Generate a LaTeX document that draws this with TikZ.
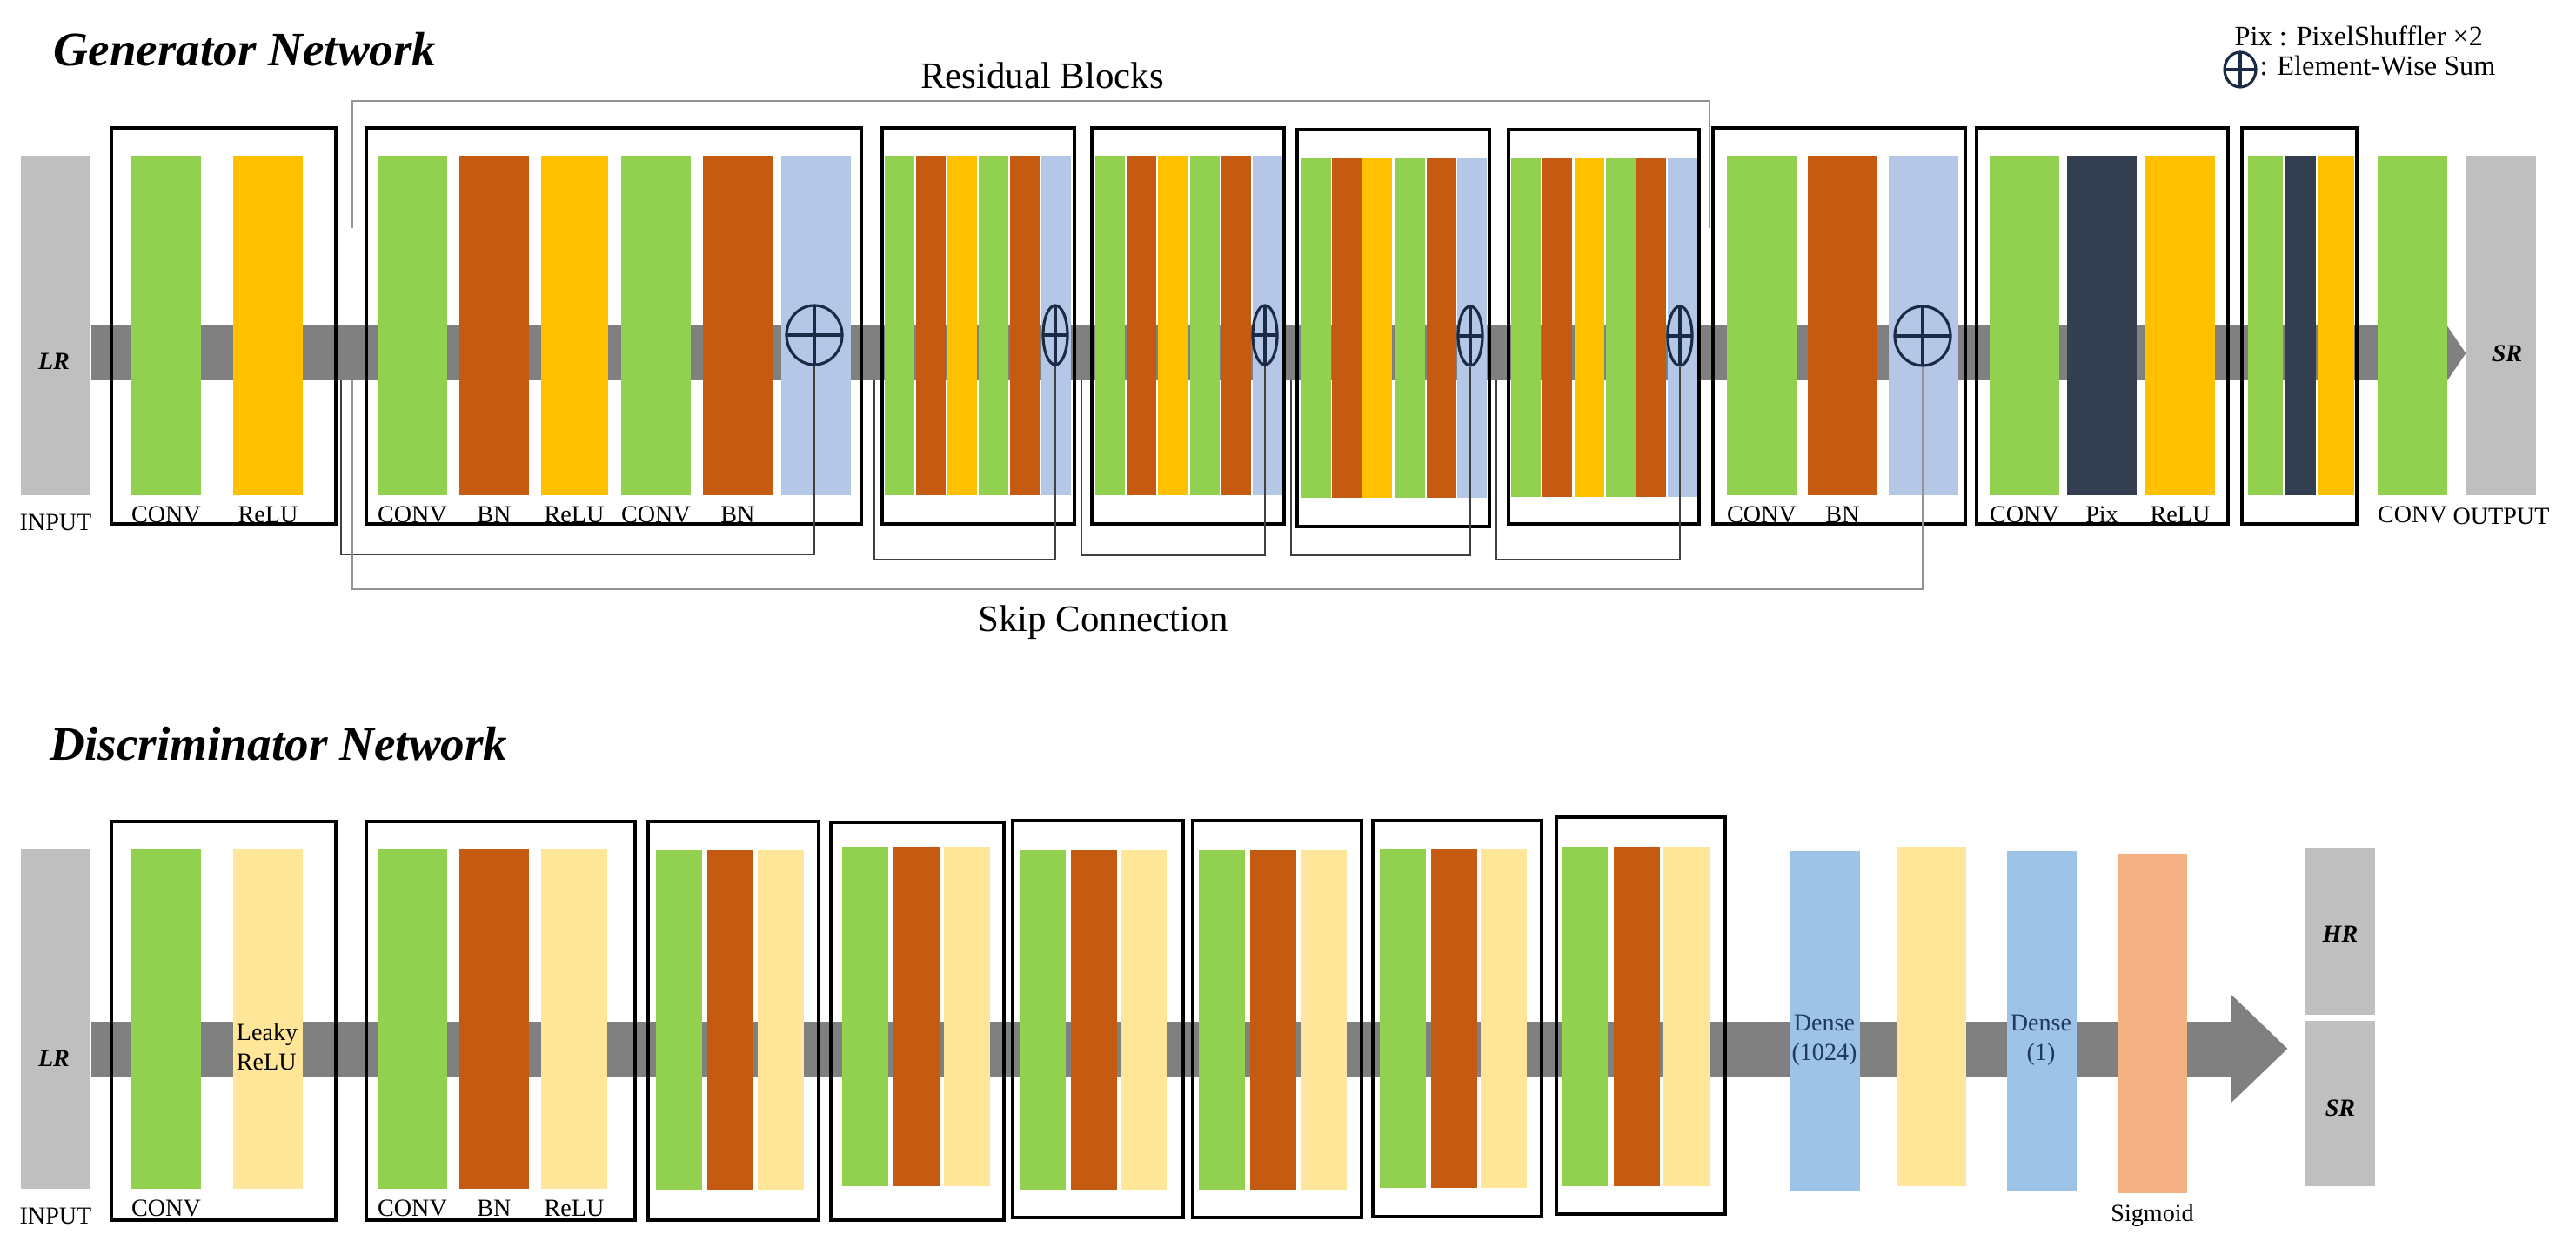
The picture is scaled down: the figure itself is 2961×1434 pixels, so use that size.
\documentclass[tikz,border=0pt]{standalone}
\usepackage{fontspec}
\setmainfont{Liberation Serif}
\usepackage{xcolor}
\usepackage{tikz}
\usetikzlibrary{positioning}
\usetikzlibrary{arrows.meta,shapes.geometric}

\definecolor{convgreen}{HTML}{92D050}
\definecolor{bnorange}{HTML}{C55A11}
\definecolor{reluyellow}{HTML}{FFC000}
\definecolor{lreluyellow}{HTML}{FFE699}
\definecolor{sumblue}{HTML}{B4C7E7}
\definecolor{pixnavy}{HTML}{333F50}
\definecolor{iogray}{HTML}{BFBFBF}
\definecolor{pipegray}{HTML}{808080}
\definecolor{denseblue}{HTML}{9DC3E6}
\definecolor{sigpeach}{HTML}{F4B183}
\definecolor{sumline}{HTML}{1C2B45}
\definecolor{densetext}{HTML}{1F3864}

\begin{document}
\begin{tikzpicture}[x=0.1mm, y=-0.1mm,
  bar/.style={rectangle, inner sep=0pt, minimum width=8mm, minimum height=39mm},
  nbar/.style={bar, minimum width=3.4mm},
  dbar/.style={bar, minimum width=5.3mm},
  convbar/.style={fill=convgreen},
  bnbar/.style={fill=bnorange},
  relubar/.style={fill=reluyellow},
  lrelubar/.style={fill=lreluyellow},
  sumbar/.style={fill=sumblue},
  pixbar/.style={fill=pixnavy},
  iobar/.style={fill=iogray},
  densebar/.style={fill=denseblue},
  sigbar/.style={fill=sigpeach},
  frame/.style={draw=black, line width=1.1pt},
  pipe/.style={draw=pipegray, line width=6.3mm},
  skip/.style={draw=black!75, line width=0.5pt},
  skipout/.style={draw=gray!85, line width=0.8pt},
  bracket/.style={draw=gray!85, line width=0.8pt},
  oplus/.style={ellipse, draw=sumline, line width=0.9pt, inner sep=0pt,
    path picture={\draw[sumline, line width=0.9pt]
      (path picture bounding box.north) -- (path picture bounding box.south)
      (path picture bounding box.west) -- (path picture bounding box.east);}},
  title/.style={font=\fontsize{15.7}{18}\selectfont\bfseries\itshape, anchor=base west, inner sep=0pt},
  head/.style={font=\fontsize{12.2}{14}\selectfont, anchor=base, inner sep=0pt},
  lbl/.style={font=\fontsize{8}{9.6}\selectfont},
  tag/.style={font=\fontsize{8}{9.6}\selectfont\bfseries\itshape, inner sep=0pt},
  note/.style={font=\fontsize{9.2}{11}\selectfont, anchor=base west, inner sep=0pt}]

 \path[use as bounding box, fill=white] (0,0) rectangle (2961,1434);

 %titles
 \node[title] (gtitle) at (61,76) {Generator Network};
 \node[title] (dtitle) at (57,874) {Discriminator Network};

 %legend
 \node[note] (leg1) at (2568,53) {Pix : PixelShuffler ×2};
 \node[oplus, minimum width=3.6mm, minimum height=4mm] (sl) at (2575,80) {};
 \node[note] (leg2) at (2597,87) {: Element-Wise Sum};

 %generator pipe
 \coordinate (gp) at (0,406);
 \node[bar, iobar] (lrg) at (64,374) {};
 \node[bar, iobar] (srg) at (2875,374) {};
 \path[pipe, -{Triangle[length=3.4mm, width=10mm, line width=0pt]}] (lrg.east |- gp) -- (srg.west |- gp);

 %l1
 \node[bar, convbar] (g1) at (191,374) {};
 \node[bar, relubar] (g2) at (308,374) {};

 %l2
 \node[bar, convbar] (g3) at (474,374) {};
 \node[bar, bnbar] (g4) at (568,374) {};
 \node[bar, relubar, minimum width=7.7mm] (g5) at (660,374) {};
 \node[bar, convbar] (g6) at (754,374) {};
 \node[bar, bnbar] (g7) at (848,374) {};
 \node[bar, sumbar] (g8) at (938,374) {};

 %residual blocks
 \node[nbar, convbar] (r3a) at (1034,374) {};
 \node[nbar, bnbar] (r3b) at (1070,374) {};
 \node[nbar, relubar] (r3c) at (1106,374) {};
 \node[nbar, convbar] (r3d) at (1142,374) {};
 \node[nbar, bnbar] (r3e) at (1178,374) {};
 \node[nbar, sumbar] (r3f) at (1214,374) {};

 \node[nbar, convbar] (r4a) at (1276,374) {};
 \node[nbar, bnbar] (r4b) at (1312,374) {};
 \node[nbar, relubar] (r4c) at (1348,374) {};
 \node[nbar, convbar] (r4d) at (1385,374) {};
 \node[nbar, bnbar] (r4e) at (1421,374) {};
 \node[nbar, sumbar] (r4f) at (1457,374) {};

 \node[nbar, convbar] (r5a) at (1513,377) {};
 \node[nbar, bnbar] (r5b) at (1548,377) {};
 \node[nbar, relubar] (r5c) at (1583,377) {};
 \node[nbar, convbar] (r5d) at (1621,377) {};
 \node[nbar, bnbar] (r5e) at (1657,377) {};
 \node[nbar, sumbar] (r5f) at (1692,377) {};

 \node[nbar, convbar] (r6a) at (1754,376) {};
 \node[nbar, bnbar] (r6b) at (1790,376) {};
 \node[nbar, relubar] (r6c) at (1827,376) {};
 \node[nbar, convbar] (r6d) at (1863,376) {};
 \node[nbar, bnbar] (r6e) at (1898,376) {};
 \node[nbar, sumbar] (r6f) at (1934,376) {};

 %l3
 \node[bar, convbar] (g9) at (2025,374) {};
 \node[bar, bnbar] (g10) at (2118,374) {};
 \node[bar, sumbar] (g11) at (2211,374) {};

 %upsampling
 \node[bar, convbar] (g12) at (2327,374) {};
 \node[bar, pixbar] (g13) at (2416,374) {};
 \node[bar, relubar] (g14) at (2506,374) {};

 \node[bar, convbar, minimum width=4mm] (g15) at (2604,374) {};
 \node[bar, pixbar, minimum width=3.6mm] (g16) at (2644,374) {};
 \node[bar, relubar, minimum width=4.2mm] (g17) at (2685,374) {};

 \node[bar, convbar] (g18) at (2773,374) {};

 %boxes
 \draw[frame] (128,147) rectangle (386,602);
 \draw[frame] (421,147) rectangle (990,602);
 \draw[frame] (1014,147) rectangle (1235,602);
 \draw[frame] (1255,147) rectangle (1476,602);
 \draw[frame] (1491,149) rectangle (1712,605);
 \draw[frame] (1734,149) rectangle (1953,602);
 \draw[frame] (1969,147) rectangle (2259,602);
 \draw[frame] (2272,147) rectangle (2561,602);
 \draw[frame] (2577,147) rectangle (2709,602);

 %sums
 \node[oplus, minimum width=6.4mm, minimum height=6.8mm] (s2) at (936,385) {};
 \node[oplus, minimum width=2.8mm, minimum height=6.8mm] (s3) at (1213,385) {};
 \node[oplus, minimum width=2.8mm, minimum height=6.8mm] (s4) at (1454,385) {};
 \node[oplus, minimum width=2.8mm, minimum height=6.8mm] (s5) at (1690,386) {};
 \node[oplus, minimum width=2.8mm, minimum height=6.8mm] (s6) at (1931,386) {};
 \node[oplus, minimum width=6.4mm, minimum height=6.8mm] (s7) at (2210,386) {};

 %skip lines
 \coordinate (k0) at (405,437);
 \coordinate (k2) at (392,437);
 \coordinate (k3) at (1005,437);
 \coordinate (k4) at (1243,437);
 \coordinate (k5) at (1484,437);
 \coordinate (k6) at (1720,437);
 \coordinate (rb1) at (405,262);
 \coordinate (rb2) at (1965,262);

 \path[skip] (k2) -- ++(0,200) -| (s2.south);
 \path[skip] (k3) -- ++(0,206) -| (s3.south);
 \path[skip] (k4) -- ++(0,201) -| (s4.south);
 \path[skip] (k5) -- ++(0,201) -| (s5.south);
 \path[skip] (k6) -- ++(0,206) -| (s6.south);
 \path[skipout] (k0) -- ++(0,240) -| (s7.south);
 \path[bracket] (rb1) -- ++(0,-146) -| (rb2);

 \node[head] (rbt) at (1198,102) {Residual Blocks};
 \node[head] (sct) at (1268,726) {Skip Connection};

 %labels
 \node[tag] (lrgt) at (62,415) {LR};
 \node[tag] (srgt) at (2882,406) {SR};
 \node[lbl, below=0.9mm of lrg] (lrgl) {INPUT};
 \node[lbl, below=0pt of g1] (g1l) {CONV};
 \node[lbl, below=0pt of g2] (g2l) {ReLU};
 \node[lbl, below=0pt of g3] (g3l) {CONV};
 \node[lbl, below=0pt of g4] (g4l) {BN};
 \node[lbl, below=0pt of g5] (g5l) {ReLU};
 \node[lbl, below=0pt of g6] (g6l) {CONV};
 \node[lbl, below=0pt of g7] (g7l) {BN};
 \node[lbl, below=0pt of g9] (g9l) {CONV};
 \node[lbl, below=0pt of g10] (g10l) {BN};
 \node[lbl, below=0pt of g12] (g12l) {CONV};
 \node[lbl, below=0pt of g13] (g13l) {Pix};
 \node[lbl, below=0pt of g14] (g14l) {ReLU};
 \node[lbl, below=0pt of g18] (g18l) {CONV};
 \node[lbl, below=0.2mm of srg] (srgl) {OUTPUT};

 %discriminator pipe
 \coordinate (dp) at (0,1205);
 \node[bar, iobar] (lrd) at (64,1171) {};
 \node[bar, iobar, minimum height=19.2mm] (hrd) at (2690,1070) {};
 \node[bar, iobar, minimum height=19mm] (srd) at (2690,1268) {};
 \path[pipe, shorten >=2mm, -{Triangle[length=6.5mm, width=12.5mm, line width=0pt]}] (lrd.east |- dp) -- (srd.west |- dp);

 %d1
 \node[bar, convbar] (d1) at (191,1171) {};
 \node[bar, lrelubar] (d2) at (308,1171) {};

 %d2
 \node[bar, convbar] (d3) at (474,1171) {};
 \node[bar, bnbar] (d4) at (568,1171) {};
 \node[bar, lrelubar, minimum width=7.6mm] (d5) at (660,1171) {};

 %d3 - d8
 \node[dbar, convbar] (d6) at (780,1172) {};
 \node[dbar, bnbar] (d7) at (839,1172) {};
 \node[dbar, lrelubar] (d8) at (897,1172) {};

 \node[dbar, convbar] (d9) at (994,1168) {};
 \node[dbar, bnbar] (d10) at (1053,1168) {};
 \node[dbar, lrelubar] (d11) at (1111,1168) {};

 \node[dbar, convbar] (d12) at (1198,1172) {};
 \node[dbar, bnbar] (d13) at (1257,1172) {};
 \node[dbar, lrelubar] (d14) at (1314,1172) {};

 \node[dbar, convbar] (d15) at (1404,1172) {};
 \node[dbar, bnbar] (d16) at (1463,1172) {};
 \node[dbar, lrelubar] (d17) at (1521,1172) {};

 \node[dbar, convbar] (d18) at (1612,1170) {};
 \node[dbar, bnbar] (d19) at (1671,1170) {};
 \node[dbar, lrelubar] (d20) at (1728,1170) {};

 \node[dbar, convbar] (d21) at (1821,1168) {};
 \node[dbar, bnbar] (d22) at (1881,1168) {};
 \node[dbar, lrelubar] (d23) at (1938,1168) {};

 %dense
 \node[bar, densebar, minimum width=8.1mm] (d24) at (2097,1173) {};
 \node[bar, lrelubar, minimum width=7.9mm] (d25) at (2220,1168) {};
 \node[bar, densebar] (d26) at (2347,1173) {};
 \node[bar, sigbar] (d27) at (2474,1176) {};

 %boxes
 \draw[frame] (128,944) rectangle (386,1402);
 \draw[frame] (421,944) rectangle (730,1402);
 \draw[frame] (745,944) rectangle (941,1402);
 \draw[frame] (955,945) rectangle (1154,1402);
 \draw[frame] (1164,943) rectangle (1360,1399);
 \draw[frame] (1371,943) rectangle (1565,1399);
 \draw[frame] (1578,943) rectangle (1772,1398);
 \draw[frame] (1789,939) rectangle (1983,1395);

 %labels
 \node[tag] (lrdt) at (62,1216) {LR};
 \node[tag] (hrdt) at (2690,1073) {HR};
 \node[tag] (srdt) at (2690,1273) {SR};
 \node[lbl, inner sep=0pt, align=left] (d2t) at (307,1203) {Leaky\\ReLU};
 \node[lbl, inner sep=0pt, align=center, text=densetext] (d24t) at (2097,1195) {Dense\\(1024)};
 \node[lbl, inner sep=0pt, align=center, text=densetext] (d26t) at (2346,1195) {Dense\\(1)};
 \node[lbl, below=0.9mm of lrd] (lrdl) {INPUT};
 \node[lbl, below=0pt of d1] (d1l) {CONV};
 \node[lbl, below=0pt of d3] (d3l) {CONV};
 \node[lbl, below=0pt of d4] (d4l) {BN};
 \node[lbl, below=0pt of d5] (d5l) {ReLU};
 \node[lbl, below=0pt of d27] (d27l) {Sigmoid};

\end{tikzpicture}
\end{document}
